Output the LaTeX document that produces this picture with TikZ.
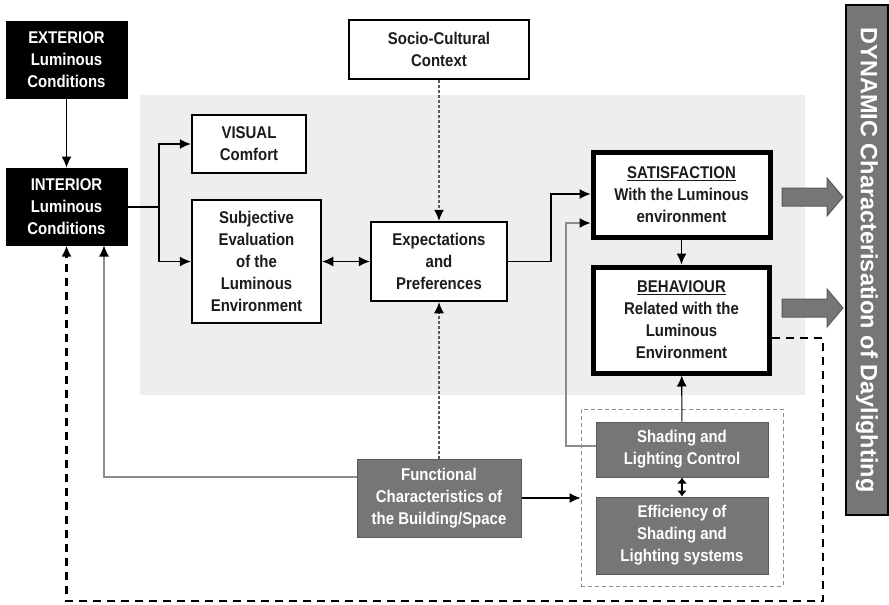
\documentclass[tikz,border=0pt]{standalone}
\usepackage{fontspec}
\setmainfont[FakeStretch=0.88]{Liberation Sans}
\newfontfamily\widefont{Liberation Sans}
\usetikzlibrary{arrows.meta}
\definecolor{ink}{HTML}{1C1C1C}
\definecolor{midgray}{HTML}{767676}
\definecolor{edgegray}{HTML}{5A5A5A}
\definecolor{linegray}{HTML}{8C8C8C}
\definecolor{zonegray}{HTML}{EEEEEE}
\tikzset{
  txt/.style={font=\fontsize{17}{22}\selectfont\bfseries, align=center, inner sep=0pt},
  darkbox/.style={txt, fill=black, draw=black, text=white, line width=1pt},
  plainbox/.style={txt, fill=white, draw=black, text=ink, line width=2.5pt},
  heavybox/.style={txt, fill=white, draw=black, text=ink, line width=5pt},
  greybox/.style={txt, fill=midgray, draw=edgegray, text=white, line width=1pt},
  tip/.style={-{Latex[length=11pt,width=10pt,color=black]}},
  link/.style={tip, line width=1.1pt, draw=black},
  paleline/.style={tip, line width=1.1pt, draw=linegray},
  dotlink/.style={tip, line width=1.1pt, draw=edgegray, dash pattern=on 3pt off 2pt},
  feedback/.style={tip, line width=2.5pt, draw=black, dash pattern=on 8pt off 6pt},
  fatarrow/.style={fill=midgray, draw=edgegray, line width=1pt},
}
\begin{document}
\begin{tikzpicture}[x=1pt,y=-1pt]
\useasboundingbox (0,0) rectangle (889,605);

% shaded zone behind the evaluation chain
\fill[zonegray] (140,95) rectangle (805,395);

% side bar
\node[draw=black, line width=2pt, fill=midgray, minimum width=42pt, minimum height=510pt, inner sep=0pt]
  (dyn) at (867,260) {};
\node[rotate=-90, text=white, font=\widefont\fontsize{23.5}{26}\selectfont\bfseries] (dyntxt) at (867,260)
  {DYNAMIC Characterisation of Daylighting};

% boxes
\node[darkbox, minimum width=121pt, minimum height=77pt] (ext) at (66.5,59.5) {EXTERIOR\\Luminous\\Conditions};
\node[darkbox, minimum width=121pt, minimum height=77pt] (int) at (66.5,206.5) {INTERIOR\\Luminous\\Conditions};
\node[plainbox, minimum width=114pt, minimum height=58pt] (vis) at (249,144) {VISUAL\\Comfort};
\node[plainbox, minimum width=129pt, minimum height=123pt] (subj) at (256.5,261.5) {Subjective\\Evaluation\\of the\\Luminous\\Environment};
\node[plainbox, minimum width=180pt, minimum height=59pt] (socio) at (439,49.5) {Socio-Cultural\\Context};
\node[plainbox, minimum width=136pt, minimum height=79pt] (exp) at (439,261.5) {Expectations\\and\\Preferences};
\node[heavybox, minimum width=177pt, minimum height=85pt] (sat) at (681.5,194.5) {\underline{SATISFACTION}\\With the Luminous\\environment};
\node[heavybox, minimum width=176pt, minimum height=106pt] (beh) at (681.5,320) {\underline{BEHAVIOUR}\\Related with the\\Luminous\\Environment};

% control group
\node[draw=linegray, dash pattern=on 4pt off 3pt, line width=1pt, minimum width=202pt, minimum height=177pt, inner sep=0pt]
  (grp) at (682,497.5) {};
\node[greybox, minimum width=172pt, minimum height=55pt] (shade) at (682,449.5) {Shading and\\Lighting Control};
\node[greybox, minimum width=172pt, minimum height=77pt] (eff) at (682,535.5) {Efficiency of\\Shading and\\Lighting systems};
\node[greybox, minimum width=164pt, minimum height=78pt] (func) at (439,498) {Functional\\Characteristics of\\the Building/Space};

% connectors
\draw[link] (ext) -- (int);
\coordinate (fork) at (159,207);
\draw[line width=1.1pt] (int.east |- fork) -- (fork);
\draw[link] (fork) |- (vis.west);
\draw[link] (fork) |- (subj.west);
\draw[link, {Latex[length=11pt,width=10pt]}-{Latex[length=11pt,width=10pt]}] (subj) -- (exp);
\draw[dotlink] (socio) -- (exp);
\draw[dotlink] (func) -- (exp);
\draw[link] (exp.east) -- (551,261.5) |- (sat.west |- 0,194);
\draw[paleline] (shade.west |- 0,446) -- (566,446) |- (sat.west |- 0,223);
\draw[link] (sat) -- (beh);
\draw[link] (shade) -- (beh);
\draw[line width=1.1pt, {Latex[length=6pt,width=10pt]}-{Latex[length=6pt,width=10pt]}] (shade) -- (eff);
\draw[link] (func.east |- 0,498) -- (grp.west |- 0,498);
\coordinate (rise) at (104,477);
\draw[paleline] (func.west |- rise) -- (rise) -- (rise |- int.south);
\draw[feedback] (beh.east |- 0,338) -- (823,338) -- (823,601) -- (int.south |- 0,601) -- (int.south);

% output arrows into the side bar
\draw[fatarrow] (782,188) -- (827,188) -- (827,178) -- (843,197) -- (827,216) -- (827,206) -- (782,206) -- cycle;
\draw[fatarrow] (782,299) -- (827,299) -- (827,289) -- (843,308) -- (827,327) -- (827,317) -- (782,317) -- cycle;
\end{tikzpicture}
\end{document}
